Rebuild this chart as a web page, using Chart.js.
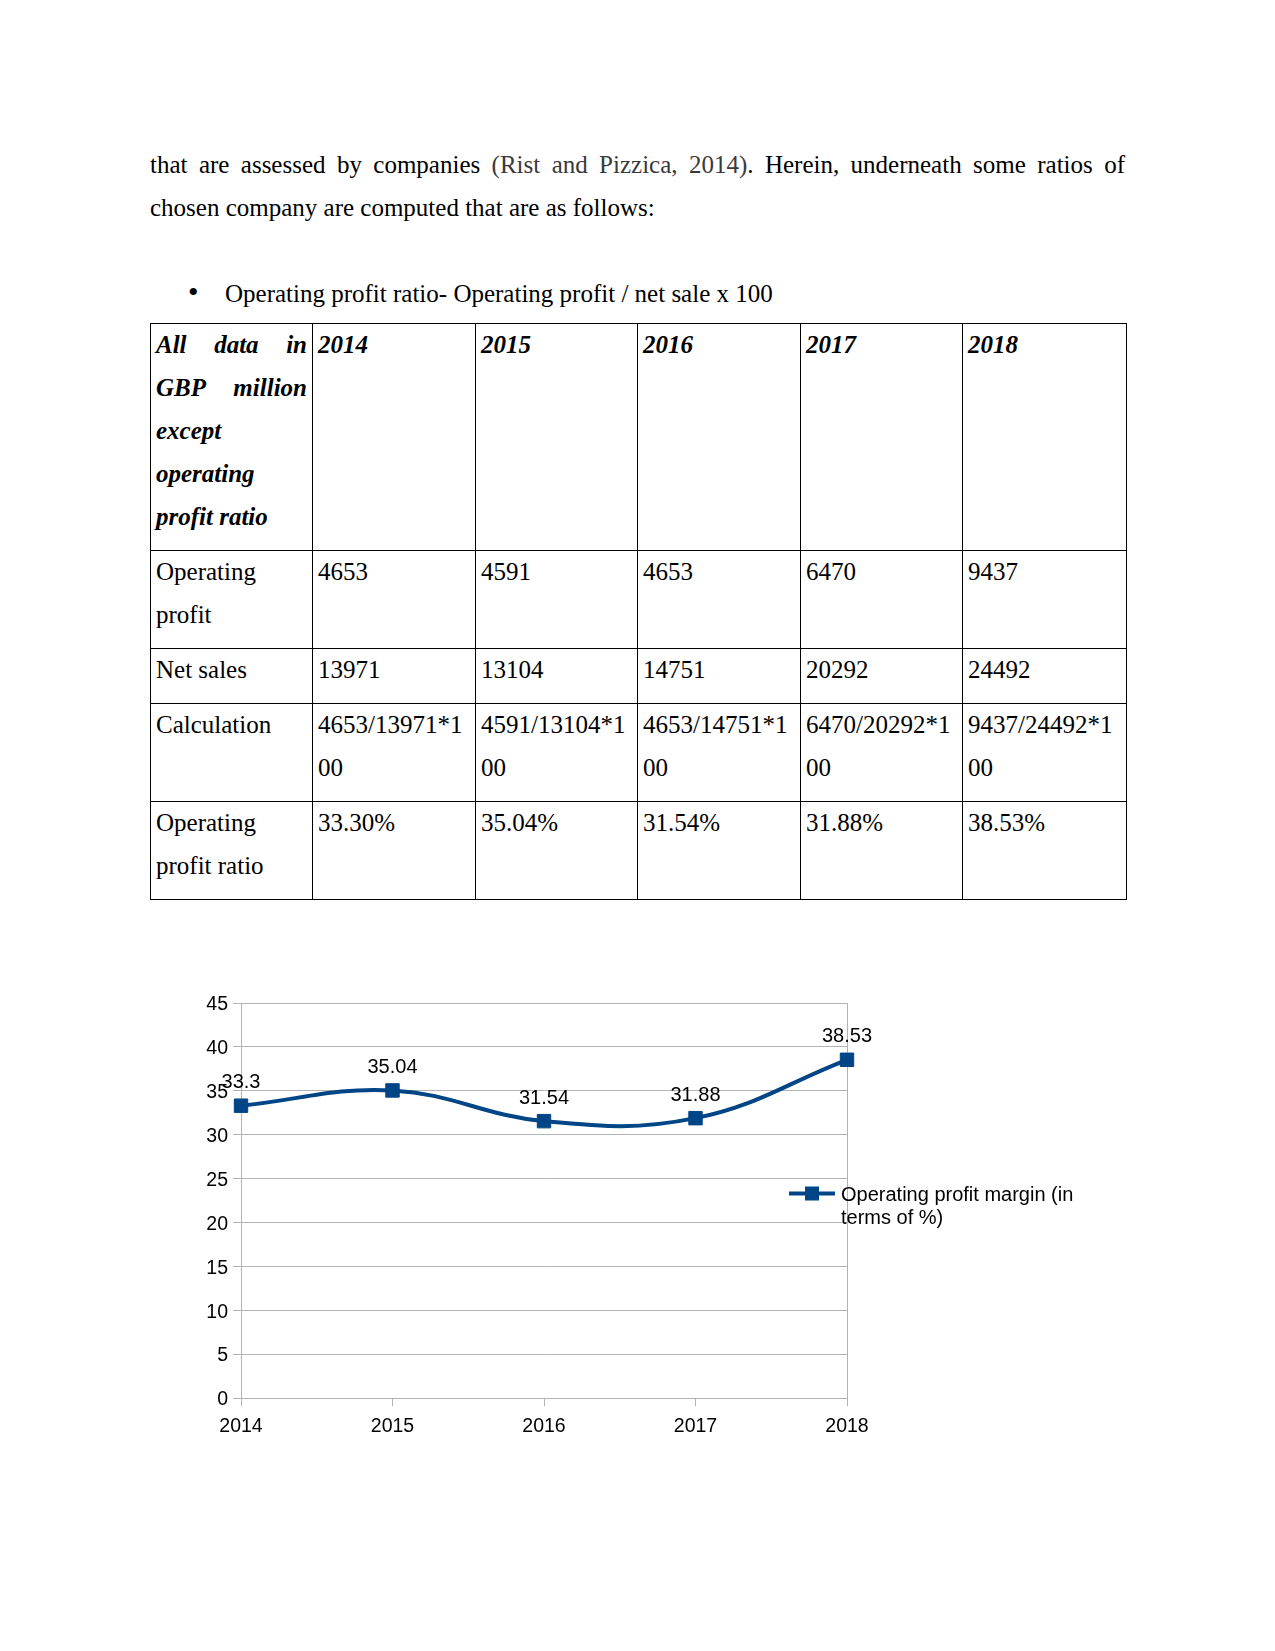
<!DOCTYPE html>
<html>
<head>
<meta charset="utf-8">
<script src="https://cdn.jsdelivr.net/npm/chart.js"></script>
<style>
  html, body { margin: 0; padding: 0; background: #fff; }
  body { width: 1275px; height: 1651px; position: relative; font-family: "Liberation Serif", serif; font-size: 25px; color: #000; }
  .para { position: absolute; left: 150px; width: 975px; line-height: 43px; }
  .justify { text-align: justify; text-align-last: justify; }
  .cite { color: #3a3a3a; }
  .bullet { position: absolute; left: 188px; font-size: 30px; line-height: 43px; }
  table { position: absolute; left: 150px; top: 323px; border-collapse: collapse; table-layout: fixed; width: 976px; }
  td, th { border: 1px solid #000; vertical-align: top; padding: 0 5px 0 5px; line-height: 43px; overflow: hidden; white-space: nowrap; }
  th { text-align: left; font-style: italic; font-weight: bold; }
  .cell { margin-top: -1px; }
  .jl { text-align: justify; text-align-last: justify; }
  #chartBox { position: absolute; left: 190px; top: 960px; }
</style>
</head>
<body>
<div class="para justify" style="top:143px">that are assessed by companies <span class="cite">(Rist and Pizzica, 2014)</span>. Herein, underneath some ratios of</div>
<div class="para" style="top:186px">chosen company are computed that are as follows:</div>
<div class="bullet" style="top:270px">&#8226;</div>
<div class="para" style="top:272px; left:225px; width:900px">Operating profit ratio- Operating profit / net sale x 100</div>

<table id="ratioTable">
  <colgroup>
    <col style="width:162px"><col style="width:163px"><col style="width:162px"><col style="width:163px"><col style="width:162px"><col style="width:164px">
  </colgroup>
</table>

<div id="chartBox"><canvas id="marginChart" width="935" height="480"></canvas></div>

<script>
// table values
const years = ['2014', '2015', '2016', '2017', '2018'];
const operatingProfit = [4653, 4591, 4653, 6470, 9437];
const netSales = [13971, 13104, 14751, 20292, 24492];
const ratioText = ['33.30%', '35.04%', '31.54%', '31.88%', '38.53%'];

// chart values
const marginLabel = 'Operating profit margin (in terms of %)';
const marginValues = [33.3, 35.04, 31.54, 31.88, 38.53];
const yMin = 0, yMax = 45, yStep = 5;

const lineColor = '#004586';
const gridColor = '#b3b3b3';
const chartFont = '"Liberation Sans", Arial, sans-serif';

// build the table
const table = document.getElementById('ratioTable');
const cell = (tag, content) => '<' + tag + '><div class="cell">' + content + '</div></' + tag + '>';
let html = '<tr style="height:227px">' + cell('th', '<div class="jl">All data in</div><div class="jl">GBP million</div><div>except</div><div>operating</div><div>profit ratio</div>');
years.forEach(y => { html += cell('th', y); });
html += '</tr>';
html += '<tr style="height:98px">' + cell('td', 'Operating<br>profit') + operatingProfit.map(v => cell('td', v)).join('') + '</tr>';
html += '<tr style="height:55px">' + cell('td', 'Net sales') + netSales.map(v => cell('td', v)).join('') + '</tr>';
html += '<tr style="height:98px">' + cell('td', 'Calculation') + operatingProfit.map((v, i) => cell('td', v + '/' + netSales[i] + '*1<br>00')).join('') + '</tr>';
html += '<tr style="height:98px">' + cell('td', 'Operating<br>profit ratio') + ratioText.map(v => cell('td', v)).join('') + '</tr>';
table.innerHTML += html;

// value labels above the points
const valueLabels = {
    id: 'valueLabels',
    afterDatasetsDraw(chart) {
        const ctx = chart.ctx;
        const meta = chart.getDatasetMeta(0);
        ctx.save();
        ctx.font = '20px ' + chartFont;
        ctx.fillStyle = '#000';
        ctx.textAlign = 'center';
        ctx.textBaseline = 'middle';
        meta.data.forEach((pt, i) => {
            ctx.fillText(String(marginValues[i]), pt.x, pt.y - 23);
        });
        ctx.restore();
    }
};

// legend drawn over the right edge like the original
const sideLegend = {
    id: 'sideLegend',
    afterDraw(chart) {
        const ctx = chart.ctx;
        const area = chart.chartArea;
        const ds = chart.data.datasets[0];
        const midY = (area.top + area.bottom) / 2 - 7;
        ctx.save();
        ctx.strokeStyle = ds.borderColor;
        ctx.lineWidth = 4;
        ctx.beginPath();
        ctx.moveTo(area.right - 58, midY);
        ctx.lineTo(area.right - 12, midY);
        ctx.stroke();
        ctx.fillStyle = ds.borderColor;
        ctx.fillRect(area.right - 42, midY - 7, 14, 14);

        ctx.font = '20px ' + chartFont;
        ctx.fillStyle = '#000';
        ctx.textAlign = 'left';
        ctx.textBaseline = 'middle';
        const words = ds.label.split(' ');
        const lines = [];
        let cur = '';
        words.forEach(w => {
            const test = cur ? cur + ' ' + w : w;
            if (ctx.measureText(test).width > 250 && cur) {
                lines.push(cur);
                cur = w;
            } else {
                cur = test;
            }
        });
        lines.push(cur);
        lines.forEach((l, i) => ctx.fillText(l, area.right - 6, midY + 2 + i * 23));
        ctx.restore();
    }
};

new Chart(document.getElementById('marginChart').getContext('2d'), {
    type: 'line',
    data: {
        labels: years,
        datasets: [
            {
                label: marginLabel,
                data: marginValues,
                borderColor: lineColor,
                backgroundColor: lineColor,
                borderWidth: 4,
                tension: 0.4,
                fill: false,
                pointStyle: 'rect',
                pointRadius: 9.5,
                pointBorderWidth: 1,
                pointBackgroundColor: lineColor,
                pointBorderColor: lineColor
            }
        ]
    },
    options: {
        responsive: false,
        animation: false,
        layout: { padding: { top: 43, right: 278, bottom: 0, left: 0 } },
        plugins: {
            legend: { display: false },
            tooltip: { enabled: false }
        },
        scales: {
            x: {
                offset: false,
                grid: {
                    color: (c) => c.index === years.length - 1 ? gridColor : 'rgba(0,0,0,0)',
                    tickColor: gridColor,
                    tickLength: 8,
                    drawOnChartArea: true
                },
                border: { color: gridColor },
                ticks: { color: '#000', font: { family: chartFont, size: 19.5 }, padding: 9, maxRotation: 0 },
                afterFit: (scale) => { scale.height = 42; }
            },
            y: {
                min: yMin,
                max: yMax,
                grid: { color: gridColor, tickColor: gridColor, tickLength: 8 },
                border: { color: gridColor },
                ticks: { stepSize: yStep, color: '#000', font: { family: chartFont, size: 19.5 }, padding: 5, labelOffset: 2 },
                afterFit: (scale) => { scale.width = 51; }
            }
        }
    },
    plugins: [valueLabels, sideLegend]
});
</script>
</body>
</html>
